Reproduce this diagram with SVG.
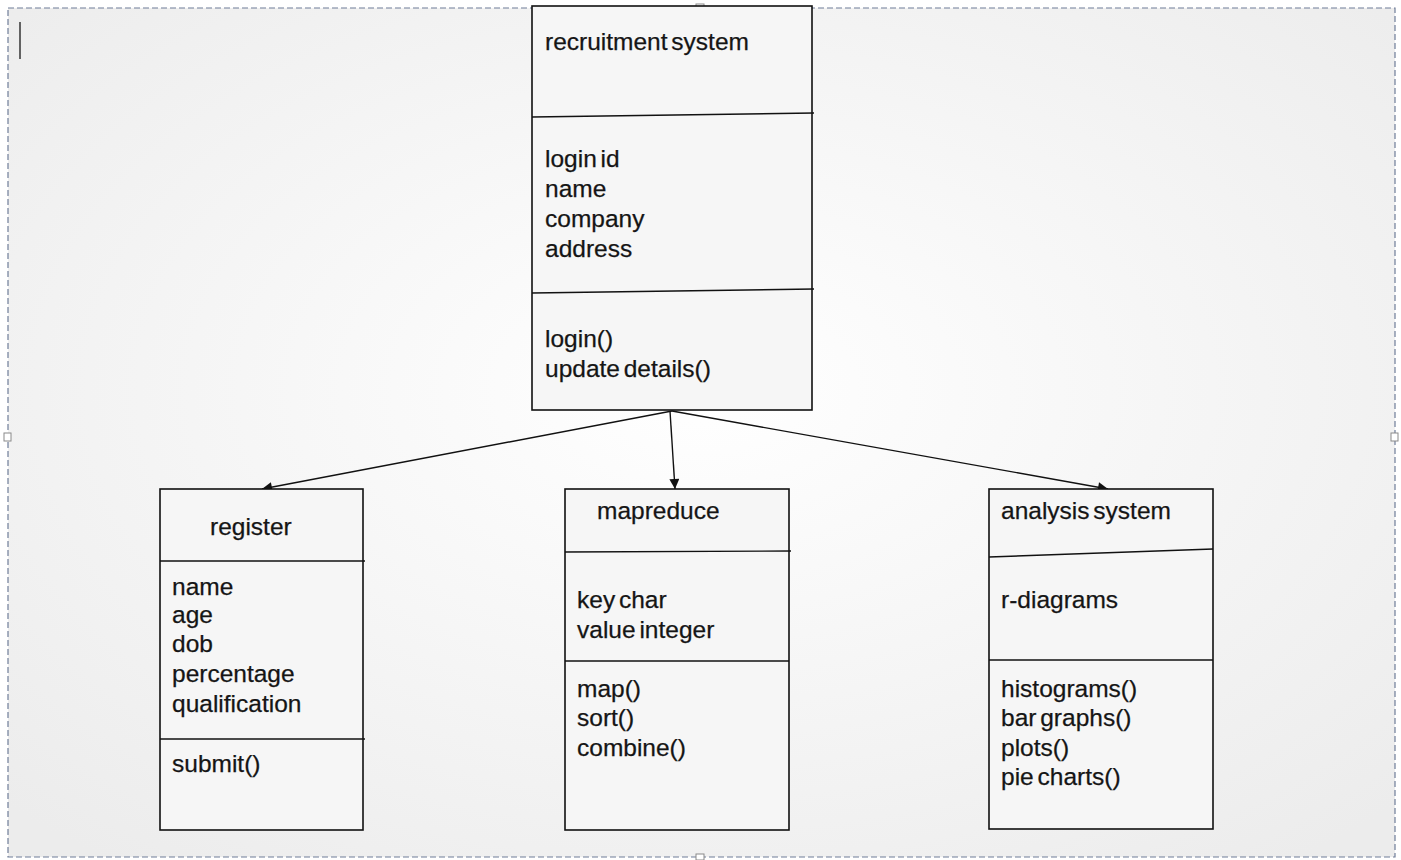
<svg xmlns="http://www.w3.org/2000/svg" width="1401" height="860" viewBox="0 0 1401 860">
<defs>
<radialGradient id="bg" cx="0.5" cy="0.45" r="0.7">
<stop offset="0" stop-color="#ffffff"/>
<stop offset="1" stop-color="#ececec"/>
</radialGradient>
<marker id="ah" viewBox="0 0 10 10" refX="10" refY="5" markerWidth="14" markerHeight="10" markerUnits="userSpaceOnUse" orient="auto">
<path d="M0,0 L10,5 L0,10 z" fill="#111"/>
</marker>
<style>
.box{fill:#f6f6f6;stroke:#111;stroke-width:1.6}
.sep{stroke:#111;stroke-width:1.4;fill:none}
text{font-family:"Liberation Sans",Arial,sans-serif;font-size:24.5px;word-spacing:-3px;fill:#151515;stroke:#151515;stroke-width:0.25}
.conn{stroke:#111;stroke-width:1.4;fill:none;marker-end:url(#ah)}
.frame{fill:none;stroke:#6f7d98;stroke-width:1.2;stroke-dasharray:6 3}
.handle{fill:#fff;stroke:#8a8a8a;stroke-width:1}
</style>
</defs>
<rect x="0" y="0" width="1401" height="860" fill="#ffffff"/>
<rect x="8" y="8" width="1387" height="849" fill="url(#bg)"/>
<rect class="frame" x="8" y="8" width="1387" height="849"/>
<rect class="handle" x="696" y="4" width="8" height="7"/>
<rect class="handle" x="4" y="433" width="7" height="8"/>
<rect class="handle" x="1391" y="433" width="7" height="8"/>
<rect class="handle" x="696" y="854" width="8" height="6"/>
<line x1="20" y1="22" x2="20" y2="59" stroke="#333" stroke-width="1.5"/>

<g id="connectors">
<line class="conn" x1="672" y1="411" x2="262" y2="489"/>
<line class="conn" x1="670" y1="411" x2="675" y2="489"/>
<line class="conn" x1="672" y1="411" x2="1108" y2="489"/>
</g>

<g id="recruitment-system">
<rect class="box" x="532" y="6" width="280" height="404"/>
<line class="sep" x1="532" y1="117" x2="814" y2="113"/>
<line class="sep" x1="532" y1="293" x2="814" y2="289"/>
<text x="545" y="50">recruitment system</text>
<text x="545" y="167">login id</text>
<text x="545" y="197">name</text>
<text x="545" y="227">company</text>
<text x="545" y="257">address</text>
<text x="545" y="347">login()</text>
<text x="545" y="377">update details()</text>
</g>

<g id="register">
<rect class="box" x="160" y="489" width="203" height="341"/>
<line class="sep" x1="160" y1="561" x2="365" y2="561"/>
<line class="sep" x1="160" y1="739" x2="365" y2="739"/>
<text x="210" y="535">register</text>
<text x="172" y="595">name</text>
<text x="172" y="623">age</text>
<text x="172" y="652">dob</text>
<text x="172" y="682">percentage</text>
<text x="172" y="712">qualification</text>
<text x="172" y="772">submit()</text>
</g>

<g id="mapreduce">
<rect class="box" x="565" y="489" width="224" height="341"/>
<line class="sep" x1="565" y1="552" x2="791" y2="551"/>
<line class="sep" x1="565" y1="661" x2="789" y2="661"/>
<text x="597" y="519">mapreduce</text>
<text x="577" y="608">key char</text>
<text x="577" y="638">value integer</text>
<text x="577" y="697">map()</text>
<text x="577" y="726">sort()</text>
<text x="577" y="756">combine()</text>
</g>

<g id="analysis-system">
<rect class="box" x="989" y="489" width="224" height="340"/>
<line class="sep" x1="989" y1="557" x2="1213" y2="549"/>
<line class="sep" x1="989" y1="660" x2="1213" y2="660"/>
<text x="1001" y="519">analysis system</text>
<text x="1001" y="608">r-diagrams</text>
<text x="1001" y="697">histograms()</text>
<text x="1001" y="726">bar graphs()</text>
<text x="1001" y="756">plots()</text>
<text x="1001" y="785">pie charts()</text>
</g>
</svg>
